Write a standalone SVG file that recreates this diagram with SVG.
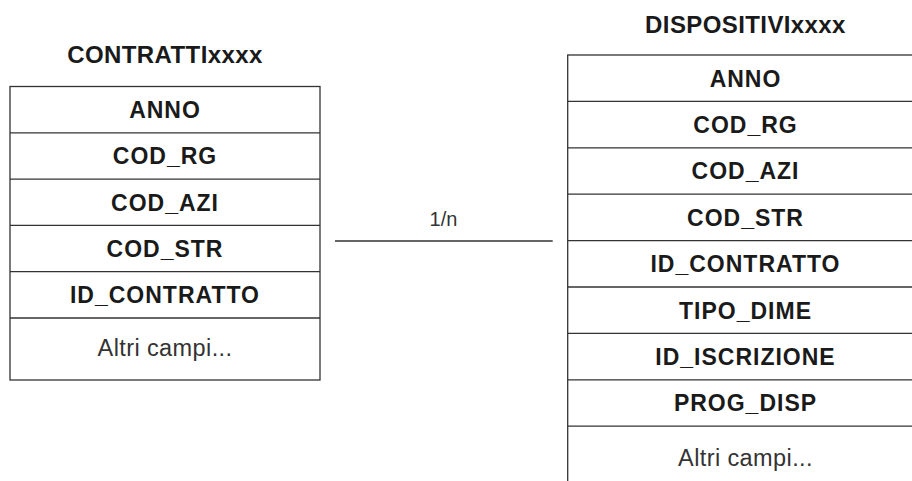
<svg xmlns="http://www.w3.org/2000/svg" width="912" height="481" viewBox="0 0 912 481">
<style>
.box{fill:#fff;stroke:#333;stroke-width:1.3}
.sep{stroke:#333;stroke-width:1.3}
.t{font-family:"Liberation Sans",Arial,sans-serif;font-size:23px;font-weight:bold;fill:#1a1a1a;text-anchor:middle;letter-spacing:1px}
.title{font-family:"Liberation Sans",Arial,sans-serif;font-size:24px;font-weight:bold;fill:#1a1a1a;text-anchor:middle;letter-spacing:0.4px}
.o{font-family:"Liberation Sans",Arial,sans-serif;font-size:23.5px;fill:#333;text-anchor:middle;letter-spacing:0.4px}
.lbl{font-family:"Liberation Sans",Arial,sans-serif;font-size:20px;fill:#333;text-anchor:middle}
</style>
<rect width="912" height="481" fill="#fff"/>
<g id="contratti">
<text class="title" x="165" y="63">CONTRATTIxxxx</text>
<rect class="box" x="10" y="86.5" width="310" height="293.5"/>
<line class="sep" x1="10" y1="132.8" x2="320" y2="132.8"/>
<line class="sep" x1="10" y1="179.1" x2="320" y2="179.1"/>
<line class="sep" x1="10" y1="225.4" x2="320" y2="225.4"/>
<line class="sep" x1="10" y1="271.7" x2="320" y2="271.7"/>
<line class="sep" x1="10" y1="318" x2="320" y2="318"/>
<text class="t" x="165" y="118">ANNO</text>
<text class="t" x="165" y="164.3">COD_RG</text>
<text class="t" x="165" y="210.6">COD_AZI</text>
<text class="t" x="165" y="256.9">COD_STR</text>
<text class="t" x="165" y="303.2">ID_CONTRATTO</text>
<text class="o" x="165" y="356">Altri campi...</text>
</g>
<g id="dispositivi">
<text class="title" x="745.5" y="33">DISPOSITIVIxxxx</text>
<rect class="box" x="567.7" y="55" width="356" height="440"/>
<line class="sep" x1="567.7" y1="101.4" x2="924" y2="101.4"/>
<line class="sep" x1="567.7" y1="147.8" x2="924" y2="147.8"/>
<line class="sep" x1="567.7" y1="194.2" x2="924" y2="194.2"/>
<line class="sep" x1="567.7" y1="240.6" x2="924" y2="240.6"/>
<line class="sep" x1="567.7" y1="287" x2="924" y2="287"/>
<line class="sep" x1="567.7" y1="333.4" x2="924" y2="333.4"/>
<line class="sep" x1="567.7" y1="379.8" x2="924" y2="379.8"/>
<line class="sep" x1="567.7" y1="426.2" x2="924" y2="426.2"/>
<text class="t" x="745.5" y="86.5">ANNO</text>
<text class="t" x="745.5" y="132.9">COD_RG</text>
<text class="t" x="745.5" y="179.3">COD_AZI</text>
<text class="t" x="745.5" y="225.7">COD_STR</text>
<text class="t" x="745.5" y="272.1">ID_CONTRATTO</text>
<text class="t" x="745.5" y="318.5">TIPO_DIME</text>
<text class="t" x="745.5" y="364.9">ID_ISCRIZIONE</text>
<text class="t" x="745.5" y="411.3">PROG_DISP</text>
<text class="o" x="745.5" y="466">Altri campi...</text>
</g>
<g id="connectors">
<line class="sep" x1="335" y1="241" x2="552.7" y2="241"/>
<text class="lbl" x="443.5" y="226">1/n</text>
</g>
</svg>
